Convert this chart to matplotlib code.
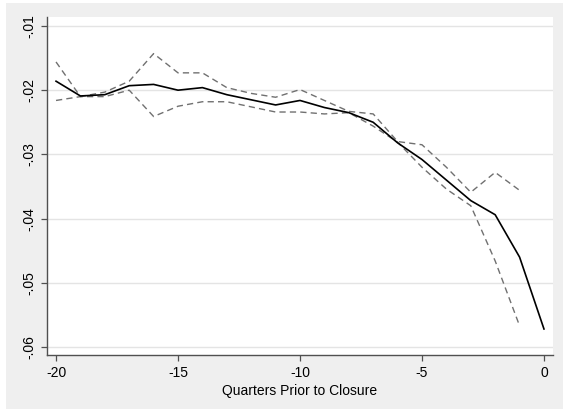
import matplotlib
matplotlib.use('agg')
import matplotlib.pyplot as plt
from matplotlib.patches import Rectangle

plt.rcParams['font.family'] = ['Liberation Sans', 'DejaVu Sans']

quarters = list(range(-20, 1))
estimate = [-0.0186, -0.0209, -0.0207, -0.0193, -0.0191, -0.0200, -0.0196,
            -0.0207, -0.0215, -0.0223, -0.0216, -0.0227, -0.0235, -0.0250,
            -0.0282, -0.0308, -0.0340, -0.0372, -0.0394, -0.0460, -0.0572]

ci_quarters = list(range(-20, 0))
ci_upper = [-0.0156, -0.0210, -0.0203, -0.0186, -0.0143, -0.0173, -0.0173,
            -0.0196, -0.0205, -0.0211, -0.0199, -0.0216, -0.0233, -0.0237,
            -0.0280, -0.0285, -0.0320, -0.0359, -0.0328, -0.0356]
ci_lower = [-0.0216, -0.0210, -0.0210, -0.0200, -0.0241, -0.0225, -0.0218,
            -0.0218, -0.0226, -0.0234, -0.0234, -0.0237, -0.0235, -0.0256,
            -0.0281, -0.0320, -0.0354, -0.0380, -0.0466, -0.0567]

yticks = [-0.06, -0.05, -0.04, -0.03, -0.02, -0.01]
ytick_labels = ['-.06', '-.05', '-.04', '-.03', '-.02', '-.01']
xticks = [-20, -15, -10, -5, 0]

fig = plt.figure(figsize=(5.63, 4.11), dpi=100)
fig.patch.set_facecolor('white')
fig.patches.append(Rectangle((6 / 563, 2 / 411), 557 / 563, 406 / 411,
                             transform=fig.transFigure, facecolor='#efefef',
                             edgecolor='none', zorder=-1))

ax = fig.add_axes([47 / 563, 56 / 411, 506 / 563, 338 / 411])
ax.set_facecolor('white')

for y in yticks:
    ax.axhline(y, color='#e4e4e4', lw=1, zorder=1)

ax.plot(ci_quarters, ci_upper, color='#707070', lw=1.0, dashes=(4.5, 3), zorder=2)
ax.plot(ci_quarters, ci_lower, color='#707070', lw=1.0, dashes=(4.5, 3), zorder=2)
ax.plot(quarters, estimate, color='black', lw=1.2, zorder=3)

ax.set_xlim(-20.37, 0.37)
ax.set_ylim(-0.06125, -0.0086)
ax.set_xticks(xticks)
ax.set_xticklabels([str(x) for x in xticks], fontsize=10)
ax.set_yticks(yticks)
ax.set_yticklabels(ytick_labels, fontsize=10, rotation=90, va='center')

for s in ['top', 'right']:
    ax.spines[s].set_visible(False)
for s in ['left', 'bottom']:
    ax.spines[s].set_color('#505050')
    ax.spines[s].set_linewidth(1.0)
ax.tick_params(axis='both', direction='out', length=4, width=0.9,
               color='#505050', pad=4)

ax.set_xlabel('Quarters Prior to Closure', fontsize=10, labelpad=3)

fig.savefig('out.png', dpi=100, facecolor=fig.get_facecolor())
